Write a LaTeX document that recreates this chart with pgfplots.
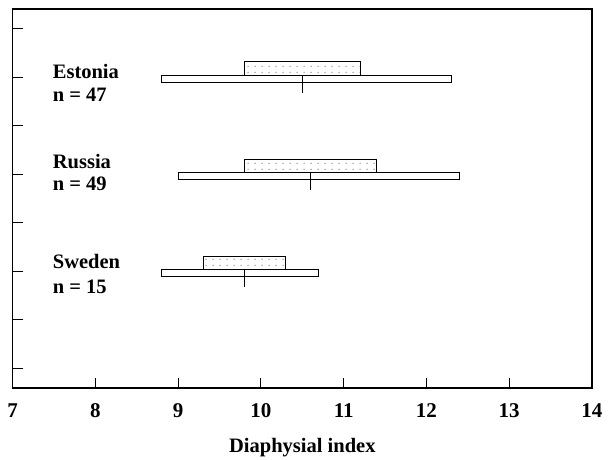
\documentclass[border=0pt]{standalone}
\usepackage{fontspec}
\setmainfont{Liberation Serif}
\usepackage{pgfplots}
\pgfplotsset{compat=1.18}
\usetikzlibrary{patterns.meta}
\tikzdeclarepattern{
  name=sparsedots,
  type=uncolored,
  bounding box={(0,0) and (7pt,6pt)},
  tile size={(7pt,6pt)},
  code={\fill (3.5pt,3pt) circle (0.65pt);}
}
\begin{document}
\begin{tikzpicture}
\useasboundingbox (-12.7pt,-71pt) rectangle (601.3pt,388pt);
\begin{axis}[
  at={(0,0)}, anchor=south west,
  scale only axis,
  width=579.3pt, height=379pt,
  xmin=7, xmax=14, ymin=0.6, ymax=8.4,
  xtick={7,8,...,14},
  ytick={1,2,...,8}, yticklabels={},
  xtick pos=bottom, ytick pos=left,
  tick align=inside,
  major tick length=10pt,
  axis line style={line width=1.2pt},
  tick style={line width=1pt, black},
  /pgf/number format/assume math mode=true,
  xticklabel style={font=\fontsize{21}{24}\selectfont\bfseries, anchor=base, yshift=-29pt},
  xlabel={Diaphysial index},
  xlabel style={font=\fontsize{20.5}{24}\selectfont\bfseries, at={(axis description cs:0.5,0)}, anchor=base, yshift=-64pt},
  clip=false,
]
% Estonia (y = 7)
\addplot[draw=black, line width=1pt, fill=white] coordinates {(8.8,6.895) (12.3,6.895) (12.3,7.03) (8.8,7.03)} -- cycle;
\addplot[draw=black, line width=1pt, pattern={sparsedots}, pattern color=black!70] coordinates {(9.8,7.03) (11.2,7.03) (11.2,7.31) (9.8,7.31)} -- cycle;
\addplot[black, line width=1pt] coordinates {(10.5,7.03) (10.5,6.67)};
% Russia (y = 5)
\addplot[draw=black, line width=1pt, fill=white] coordinates {(9.0,4.895) (12.4,4.895) (12.4,5.03) (9.0,5.03)} -- cycle;
\addplot[draw=black, line width=1pt, pattern={sparsedots}, pattern color=black!70] coordinates {(9.8,5.03) (11.4,5.03) (11.4,5.31) (9.8,5.31)} -- cycle;
\addplot[black, line width=1pt] coordinates {(10.6,5.03) (10.6,4.67)};
% Sweden (y = 3)
\addplot[draw=black, line width=1pt, fill=white] coordinates {(8.8,2.895) (10.7,2.895) (10.7,3.03) (8.8,3.03)} -- cycle;
\addplot[draw=black, line width=1pt, pattern={sparsedots}, pattern color=black!70] coordinates {(9.3,3.03) (10.3,3.03) (10.3,3.31) (9.3,3.31)} -- cycle;
\addplot[black, line width=1pt] coordinates {(9.8,3.03) (9.8,2.67)};
% group labels
\node[anchor=west, inner sep=0pt, font=\fontsize{20.5}{24}\selectfont\bfseries] at (axis cs:7.483,7.108) {Estonia};
\node[anchor=west, inner sep=0pt, font=\fontsize{20.5}{24}\selectfont\bfseries] at (axis cs:7.483,6.643) {n = 47};
\node[anchor=west, inner sep=0pt, font=\fontsize{20.5}{24}\selectfont\bfseries] at (axis cs:7.483,5.27) {Russia};
\node[anchor=west, inner sep=0pt, font=\fontsize{20.5}{24}\selectfont\bfseries] at (axis cs:7.483,4.80) {n = 49};
\node[anchor=west, inner sep=0pt, font=\fontsize{20.5}{24}\selectfont\bfseries] at (axis cs:7.483,3.199) {Sweden};
\node[anchor=west, inner sep=0pt, font=\fontsize{20.5}{24}\selectfont\bfseries] at (axis cs:7.483,2.684) {n = 15};
\end{axis}
\end{tikzpicture}
\end{document}
